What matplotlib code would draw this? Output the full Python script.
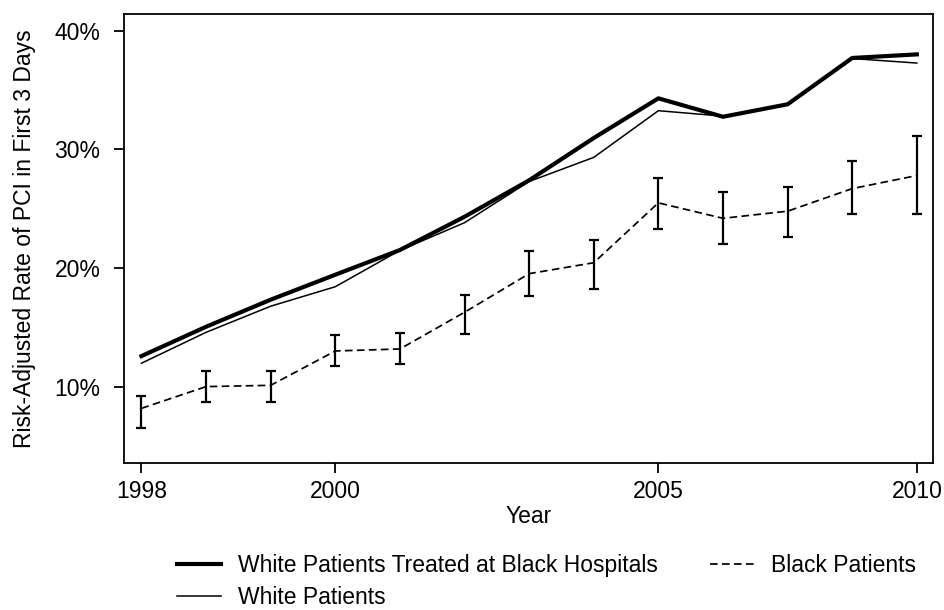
import numpy as np
import matplotlib
matplotlib.use("Agg")
import matplotlib.pyplot as plt

plt.rcParams["font.family"] = ["Liberation Sans", "DejaVu Sans"]
plt.rcParams["font.size"] = 16.5

# 13 yearly observations, ticks labelled at selected positions
tick_pos = [0, 3, 8, 12]
tick_labels = ["1998", "2000", "2005", "2010"]

white_black_hosp = [12.6, 15.07, 17.35, 19.45, 21.53, 24.33, 27.4, 30.96, 34.3, 32.75, 33.8, 37.7, 38.0]
white = [12.0, 14.6, 16.8, 18.44, 21.5, 23.83, 27.3, 29.33, 33.26, 32.8, 33.8, 37.65, 37.27]
black = [8.2, 10.03, 10.14, 13.03, 13.2, 16.29, 19.54, 20.46, 25.5, 24.2, 24.8, 26.7, 27.8]
black_hi = [9.2, 11.37, 11.37, 14.4, 14.57, 17.72, 21.42, 22.35, 27.6, 26.4, 26.8, 29.05, 31.1]
black_lo = [6.57, 8.74, 8.74, 11.74, 11.94, 14.49, 17.69, 18.28, 23.3, 22.06, 22.6, 24.6, 24.6]

x = np.arange(len(black))
black = np.array(black)
yerr = [black - np.array(black_lo), np.array(black_hi) - black]

fig = plt.figure(figsize=(9.44, 6.10), dpi=100)
ax = fig.add_axes([124 / 944, 1 - 463 / 610, (933 - 124) / 944, (463 - 14) / 610])

l1, = ax.plot(x, white_black_hosp, color="black", lw=3.0,
              label="White Patients Treated at Black Hospitals")
l2, = ax.plot(x, white, color="black", lw=1.1, label="White Patients")
l3, = ax.plot(x, black, color="black", lw=1.25, dashes=(4.4, 2.5), label="Black Patients")
ax.errorbar(x, black, yerr=yerr, fmt="none", ecolor="black", elinewidth=1.6,
            capsize=3.9, capthick=1.6)

ax.set_xlim(-0.27, 12.25)
ax.set_ylim(3.6, 41.4)
ax.set_xticks(tick_pos)
ax.set_xticklabels(tick_labels)
ax.set_yticks([10, 20, 30, 40])
ax.set_yticklabels(["10%", "20%", "30%", "40%"])
ax.tick_params(axis="both", length=7, width=1.3, color="black")
ax.tick_params(axis="y", pad=10)
ax.tick_params(axis="x", pad=5)
for s in ax.spines.values():
    s.set_linewidth(1.3)

ax.set_xlabel("Year", labelpad=2)
ax.set_ylabel("Risk-Adjusted Rate of PCI in First 3 Days", labelpad=13)

fig.legend(handles=[l1, l2, l3], ncol=2, frameon=False, loc="upper left",
           bbox_to_anchor=(177 / 944, 1 - 554 / 610), borderpad=0, borderaxespad=0,
           handlelength=1.9, handletextpad=0.75, columnspacing=2.3, labelspacing=0.4)

fig.savefig("out.png", dpi=100)
